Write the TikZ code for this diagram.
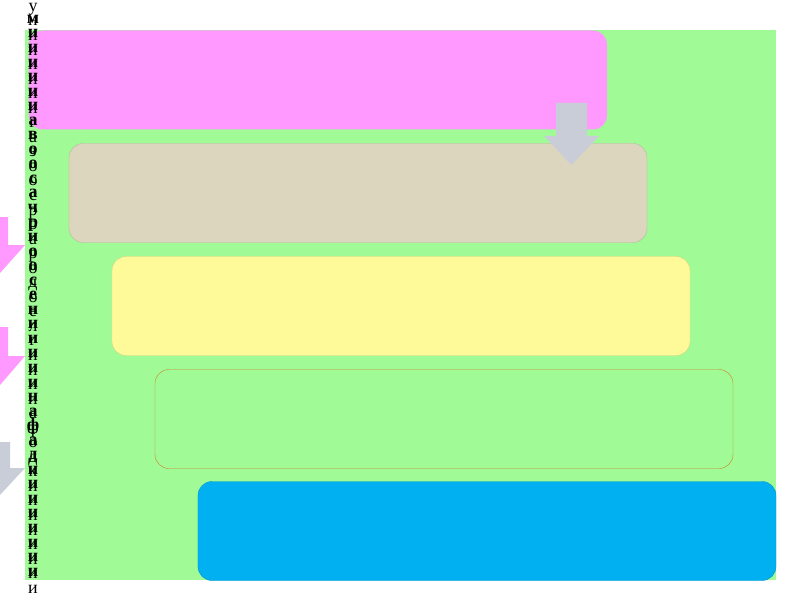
\documentclass[tikz,border=0pt]{standalone}
\usepackage{fontspec}
\setmainfont{Liberation Serif}
\definecolor{bggreen}{RGB}{160,250,150}
\definecolor{pinkbox}{RGB}{255,153,255}
\definecolor{beigebox}{RGB}{221,214,190}
\definecolor{yellowbox}{RGB}{255,250,153}
\definecolor{bluebox}{RGB}{0,176,240}
\definecolor{arrowgray}{RGB}{200,205,216}
\tikzstyle{bx}=[rectangle,rounded corners=14bp,minimum width=578bp,minimum height=99bp,inner sep=0pt]
\tikzstyle{col}=[align=center,inner sep=0pt,font=\fontsize{18}{14.6}\selectfont,anchor=north]

\begin{document}
\begin{tikzpicture}[x=1bp,y=-1bp]
\useasboundingbox[fill=white] (0,0) rectangle (800,600);
\fill[bggreen] (25,30) rectangle (776,580);
% left arrows, mostly off the page
\fill[pinkbox] (-8,217) -- (8,217) -- (8,245) -- (25,245) -- (0,273) -- (-25,245) -- cycle;
\fill[pinkbox] (-8,327) -- (8,327) -- (8,356) -- (25,356) -- (0,385) -- (-25,356) -- cycle;
\fill[arrowgray] (-10,442) -- (10,442) -- (10,468) -- (25,468) -- (0,495) -- (-25,468) -- cycle;
% steps
\node[bx,fill=pinkbox] (pink) at (318,80) {};
\node[bx,fill=beigebox,draw=beigebox!85!black,thin] (beige) at (358,193) {};
\node[bx,fill=yellowbox,draw=yellowbox!85!black,thin] (yellow) at (401,306) {};
\node[bx,fill=bggreen,draw=brown!70!orange,thin] (green) at (444,419) {};
\node[bx,fill=bluebox,draw=bluebox!85!black,thin] (blue) at (487,531) {};
% down arrow between the first two
\fill[arrowgray] (556,103) -- (587,103) -- (587,136) -- (599,136) -- (571.5,165) -- (544,136) -- (556,136) -- cycle;
% broken text column
\node[col] (colA) at (33,3) {у\\н\\и\\и\\и\\и\\и\\и\\г\\а\\з\\о\\о\\с\\р\\о\\а\\р\\о\\д\\о\\е\\л\\г\\и\\и\\и\\и\\а\\ф\\о\\д\\к\\и\\и\\и\\и\\и\\и\\и\\и};
\node[col,font=\fontsize{18}{14.6}\selectfont\bfseries] (colB) at (33,15) {м\\и\\и\\и\\и\\и\\и\\а\\в\\о\\о\\с\\а\\ч\\р\\и\\о\\о\\с\\е\\н\\и\\и\\и\\и\\и\\н\\а\\ф\\а\\д\\и\\и\\и\\и\\и\\и\\и\\и};
\end{tikzpicture}
\end{document}
